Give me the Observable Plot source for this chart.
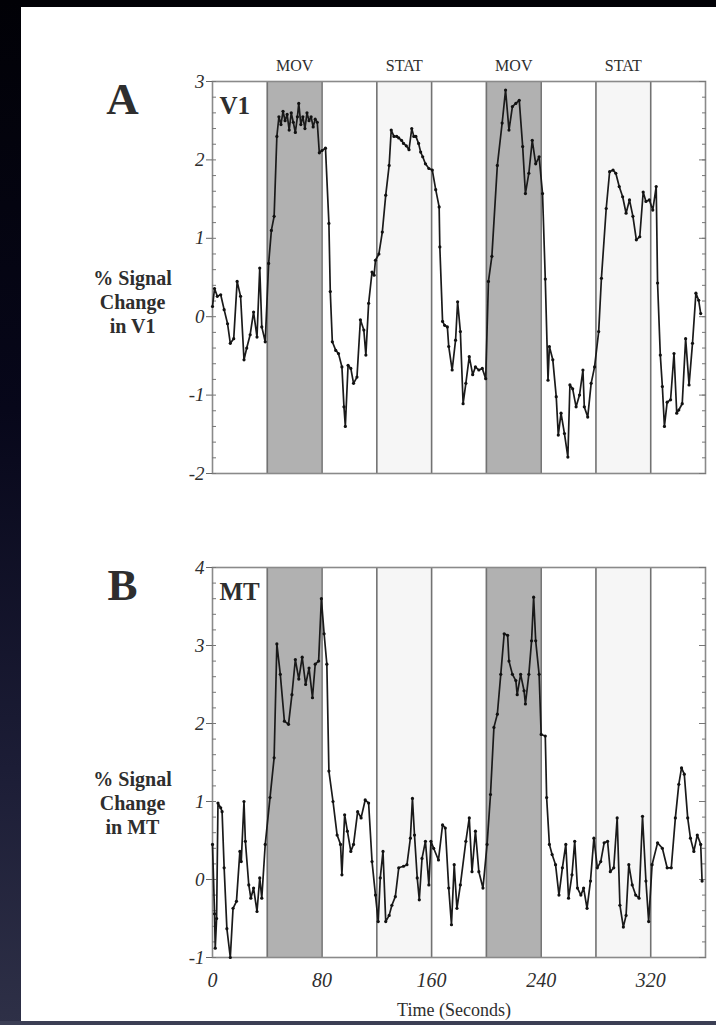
<!DOCTYPE html>
<html><head><meta charset="utf-8">
<script src="https://cdn.jsdelivr.net/npm/d3@7"></script>
<script src="https://cdn.jsdelivr.net/npm/@observablehq/plot@0.6"></script>
<style>
html,body{margin:0;padding:0;}
body{width:716px;height:1025px;overflow:hidden;position:relative;
  background:linear-gradient(to bottom,#010106 0%,#07071a 40%,#1c1d36 75%,#2e3047 100%);}
#paper{position:absolute;left:21px;top:7px;width:695px;height:1014px;background:#fff;overflow:hidden;}
#paper svg{position:absolute;left:-21px;max-width:none !important;}
#band{position:absolute;left:0;top:1021px;width:716px;height:4px;background:#3b3e54;}
</style></head><body>
<div id="paper"></div><div id="band"></div>
<script>
// ---- data ----
const blockLabels = ["MOV", "STAT", "MOV", "STAT"];
const blockStart = [40, 120, 200, 280];
const blockEnd = [80, 160, 240, 320];
const xTicks = [0, 80, 160, 240, 320];
const yTicksA = [-2, -1, 0, 1, 2, 3];
const yTicksB = [-1, 0, 1, 2, 3, 4];

const v1Time = [0,1.5,3.5,6,8.5,11,13,15.5,18,20.5,23,25,27.5,30,32.5,34.5,36,38.5,41,43,45,47,48.5,50,51.5,53,54.5,56,57.5,59,60.5,62,63,64.5,66,67.5,69,70.5,72,73.5,75,76.5,78,80,82.5,85,86,87.5,90,92,94.5,96,97,99,101,103,105.5,108,110.5,112,114,116.5,118,119,121.5,124,126.5,129,130.5,132.5,134.5,136,138,139.5,141.5,143.5,145.5,147,148.5,150.5,152,153.5,155.5,158,160.5,163,165.5,166,168,169.5,171.5,172.5,175,177.5,179,181,183,185,187.5,190,192,194.5,197,199.5,201.5,204,208,211.5,214,216.5,219,221.5,224,226.5,228.5,231,233.5,236,238.5,241,243,245,246,248.5,251,252.5,254.5,257,259.5,261,263,265.5,268,270.5,271.5,274,276.5,279,282,284,287.5,290,292.5,294.5,297,299.5,302,304.5,307,309.5,312,314.5,316.5,319,321.5,324,325,327,328.5,330,332,334.5,337,339,340.5,343,345.5,348,350.5,353,355,356.5];
const v1Value = [0.13,0.36,0.26,0.28,0.09,-0.09,-0.34,-0.28,0.45,0.26,-0.55,-0.4,-0.23,0.06,-0.26,0.62,-0.13,-0.32,0.68,1.1,1.28,2.3,2.55,2.45,2.62,2.5,2.58,2.38,2.6,2.48,2.35,2.55,2.72,2.45,2.55,2.4,2.6,2.5,2.55,2.42,2.52,2.48,2.09,2.12,2.15,1.19,0.32,-0.32,-0.43,-0.47,-0.64,-1.15,-1.4,-0.62,-0.66,-0.85,-0.77,-0.04,-0.17,-0.49,0.17,0.57,0.53,0.72,0.8,1.08,1.55,1.93,2.38,2.3,2.3,2.28,2.25,2.21,2.18,2.13,2.4,2.3,2.3,2.21,2.1,2.04,1.95,1.89,1.87,1.62,1.4,0.89,-0.06,-0.11,-0.13,-0.38,-0.68,-0.3,0.19,-0.19,-1.11,-0.85,-0.51,-0.74,-0.64,-0.68,-0.66,-0.79,0.45,0.77,1.93,2.47,2.89,2.38,2.68,2.72,2.76,2.17,1.57,1.83,2.25,1.95,2.04,1.57,0.48,-0.81,-0.38,-0.55,-1.02,-1.51,-1.23,-1.49,-1.79,-0.87,-0.92,-1.15,-1.0,-0.68,-1.15,-1.28,-0.85,-0.64,-0.19,0.49,1.38,1.85,1.87,1.83,1.66,1.53,1.32,1.49,1.28,0.98,1.02,1.59,1.47,1.49,1.36,1.66,0.43,-0.49,-0.89,-1.4,-1.09,-1.06,-0.47,-1.23,-1.19,-1.11,-0.28,-0.87,-0.34,0.3,0.21,0.04];

const mtTime = [0,1.5,2,3,4,6,7,8.5,10.5,13,15,17.5,20,21,23,24,26.5,28,30,32.5,34.5,36,38.5,42,45,47,49.5,52.5,55.5,58,60.5,63,65.5,68,70.5,73,75,77.5,79.5,81.5,83.5,85,88,91,93.5,94.5,96.5,98.5,101,103,106,108.5,111.5,114,116.5,119,121,122.5,124.5,126.5,129,131,133.5,136,139.5,142,144.5,146,147.5,149.5,151,153,155.5,158,159.5,161.5,165,168,170,172.5,174.5,176.5,178.5,181,185,187.5,189.5,192,194.5,197.5,200.5,203,205.5,208,210.5,213,215.5,216.5,219,221.5,222.5,225,227.5,228.5,231,233,234.5,236,238.5,240,243,244,246,248,250.5,253,255.5,258,260,262.5,264.5,266.5,269,271,273.5,276,278.5,281,283.5,286,288.5,290.5,293,295.5,297.5,300,302,304,306.5,309,311.5,314,316.5,318.5,321,325,328.5,332,335,338,340.5,342.5,344.5,347,349,351.5,354,356.5,357.5];
const mtValue = [0.45,-0.44,-0.88,-0.5,0.98,0.92,0.87,0.15,-0.63,-1.0,-0.37,-0.28,0.36,0.23,1.0,0.49,-0.07,-0.24,-0.11,-0.41,0.02,-0.24,0.45,1.05,1.56,3.02,2.63,2.03,1.99,2.37,2.82,2.57,2.85,2.5,2.71,2.33,2.76,2.8,3.6,3.15,2.76,1.39,1.0,0.57,0.45,0.06,0.83,0.62,0.36,0.45,0.87,0.79,1.02,0.98,0.23,-0.2,-0.54,0.02,0.36,-0.54,-0.46,-0.33,-0.22,0.15,0.17,0.19,0.53,1.04,0.57,0.02,-0.26,0.27,0.49,-0.07,0.49,0.4,0.25,0.7,0.66,-0.11,-0.58,0.19,-0.37,-0.07,0.49,0.79,0.1,0.62,0.1,-0.11,0.45,1.09,1.95,2.12,2.63,3.15,3.13,2.8,2.63,2.55,2.37,2.63,2.42,2.25,2.63,3.06,3.62,3.06,2.63,1.86,1.84,1.05,0.45,0.32,0.19,-0.2,0.15,0.45,-0.24,0.06,0.49,-0.11,-0.2,-0.11,-0.37,-0.02,0.53,0.15,0.23,0.47,0.49,0.1,0.15,0.79,-0.33,-0.61,-0.46,0.19,-0.07,-0.2,-0.24,0.81,-0.02,-0.54,0.19,0.47,0.4,0.15,0.15,0.79,1.22,1.43,1.35,0.79,0.53,0.36,0.57,0.45,-0.02];

// ---- build ----
const blocks = blockLabels.map((label, i) => ({label, start: blockStart[i], end: blockEnd[i], mid: (blockStart[i] + blockEnd[i]) / 2}));
const movBlocks = blocks.filter(d => d.label === "MOV");
const statBlocks = blocks.filter(d => d.label === "STAT");
const edges = blocks.flatMap(d => [d.start, d.end]);
const v1Rows = v1Time.map((t, i) => ({t, v: v1Value[i]}));
const mtRows = mtTime.map((t, i) => ({t, v: mtValue[i]}));

const SERIF = "'Liberation Serif', 'DejaVu Serif', serif";
const INK = "#2e2e2e";
const AX = "#8a8a8a";

function panel({rows, yTicks, letter, region, ylabel, ylabelDy, top, height, marginTop, marginBottom, headers, xAxis}) {
  const [y0, y1] = [yTicks[0], yTicks[yTicks.length - 1]];
  const minor = d3.range(y0, y1 + 0.001, 0.2).map(v => Math.round(v * 10) / 10);
  const marks = [
    Plot.rect(statBlocks, {x1: "start", x2: "end", fill: "#f6f6f6"}),
    Plot.rect(movBlocks, {x1: "start", x2: "end", fill: "#b1b1b1"}),
    Plot.ruleX(edges, {stroke: "#727272", strokeWidth: 1.6}),
    Plot.frame({stroke: AX, strokeWidth: 1.6}),
    Plot.axisY(yTicks, {tickSize: 6, tickPadding: 2, tickFormat: d => String(d), fontSize: 19, fontStyle: "italic", label: null, stroke: "#666", color: INK}),
    Plot.axisY(minor, {tickSize: 4, dx: 4, tickFormat: () => "", label: null, stroke: "#777"}),
    Plot.axisY(minor, {anchor: "right", tickSize: 4, dx: -4, tickFormat: () => "", label: null, stroke: "#777"}),
    Plot.axisY(yTicks, {anchor: "right", tickSize: 7, dx: -7, tickFormat: () => "", label: null, stroke: "#777"}),
    Plot.line(rows, {x: "t", y: "v", stroke: "#1a1a1a", strokeWidth: 1.7}),
    Plot.dot(rows, {x: "t", y: "v", r: 1.6, fill: "#111", stroke: null}),
    Plot.text([letter], {text: d => d, frameAnchor: "top-left", dx: -90, dy: 32, lineAnchor: "bottom", textAnchor: "middle", fontSize: 45, fontWeight: "bold", fill: INK}),
    Plot.text([region], {text: d => d, frameAnchor: "top-left", dx: 7, dy: 32, lineAnchor: "bottom", textAnchor: "start", fontSize: 25, fontWeight: "bold", fill: INK}),
    Plot.text([ylabel], {text: d => d, frameAnchor: "left", dx: -80, dy: ylabelDy, textAnchor: "middle", lineHeight: 1.18, fontSize: 20, fontWeight: "bold", fill: INK})
  ];
  if (headers) marks.push(Plot.text(blocks, {x: "mid", text: "label", frameAnchor: "top", lineAnchor: "bottom", dy: -11, fontSize: 16, fill: INK, letterSpacing: "1px"}));
  if (xAxis) {
    marks.push(Plot.axisX(xTicks, {tickSize: 0, tickPadding: 15, tickFormat: d => String(d), fontSize: 20, fontStyle: "italic", label: null, color: INK}));
    marks.push(Plot.text(["Time (Seconds)"], {text: d => d, frameAnchor: "bottom", dx: -5, dy: 46, lineAnchor: "top", fontSize: 18, fill: INK}));
  }
  const svg = Plot.plot({
    width: 716, height, marginLeft: 212, marginRight: 11, marginTop, marginBottom,
    x: {domain: [0, 360], axis: null},
    y: {domain: [y0, y1], axis: null},
    style: {fontFamily: SERIF, background: "transparent", color: INK, overflow: "visible", maxWidth: "none"},
    marks
  });
  svg.style.top = (top - 7) + "px";
  svg.style.maxWidth = "none";
  document.getElementById("paper").appendChild(svg);
}

panel({rows: v1Rows, yTicks: yTicksA, letter: "A", region: "V1", ylabel: "% Signal\nChange\nin V1", ylabelDy: 24,
  top: 40, height: 450, marginTop: 41, marginBottom: 17, headers: true, xAxis: false});
panel({rows: mtRows, yTicks: yTicksB, letter: "B", region: "MT", ylabel: "% Signal\nChange\nin MT", ylabelDy: 40,
  top: 530, height: 495, marginTop: 37, marginBottom: 68, headers: false, xAxis: true});
</script>
</body></html>
